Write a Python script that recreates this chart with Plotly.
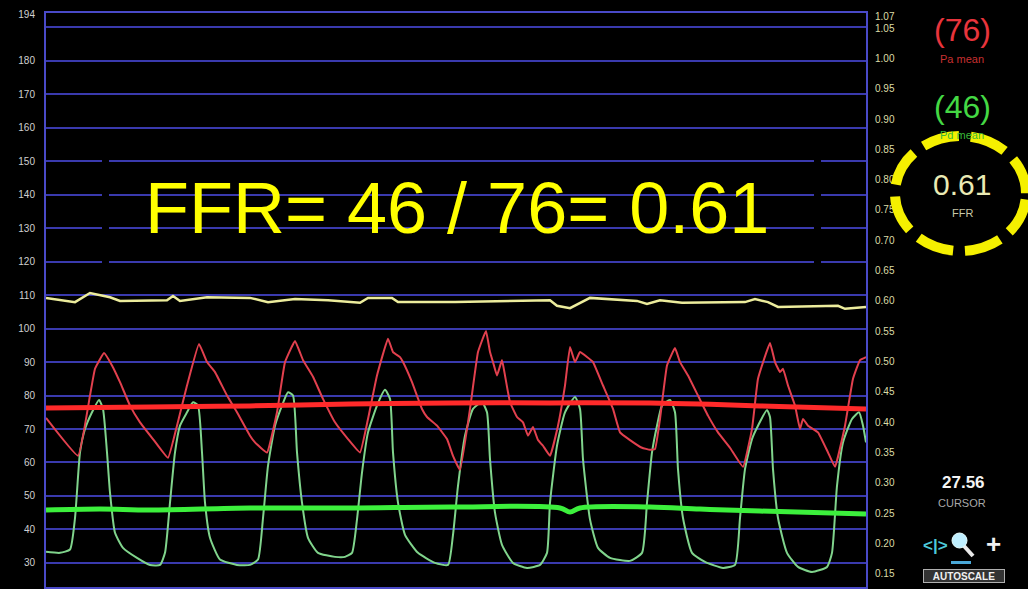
import plotly.graph_objects as go

# ---------------- data ----------------
# time in seconds along the trace
TIME_PA = [0, 0.32, 0.44, 0.49, 0.58, 0.66, 0.74, 0.84, 0.94, 1.07,
           1.22, 1.31, 1.41, 1.53, 1.61, 1.69, 1.81, 1.91, 2.04, 2.09,
           2.21, 2.31, 2.39, 2.49, 2.57, 2.67, 2.77, 2.89, 3.02, 3.14,
           3.22, 3.31, 3.42, 3.47, 3.54, 3.57, 3.66, 3.76, 3.81, 3.91,
           4.01, 4.07, 4.14, 4.24, 4.32, 4.40, 4.44, 4.47, 4.51, 4.56,
           4.59, 4.64, 4.71, 4.77, 4.82, 4.87, 4.92, 4.97, 5.04, 5.12,
           5.19, 5.24, 5.29, 5.34, 5.41, 5.47, 5.57, 5.67, 5.74, 5.84,
           5.96, 6.04, 6.09, 6.14, 6.21, 6.29, 6.34, 6.42, 6.52, 6.62,
           6.72, 6.84, 6.97, 7.06, 7.12, 7.24, 7.29, 7.34, 7.37, 7.42,
           7.49, 7.54, 7.57, 7.62, 7.72, 7.82, 7.89, 7.99, 8.07, 8.14,
           8.20]
PA_PHASIC = [73.3, 62, 80, 88, 92.7, 89, 84, 77, 72, 67,
             61.4, 71, 83, 95.4, 90, 87, 80, 75, 68, 66,
             63, 75, 90, 96.3, 90.6, 85.6, 79, 72, 67, 63,
             73, 86, 97, 93, 91.5, 90, 84, 76, 73.6, 71,
             67, 62, 57.8, 76, 93, 99.3, 93, 90, 86, 90.6,
             86, 78, 73.6, 72, 68, 70.6, 66.7, 65, 62, 71,
             83, 94.5, 90, 93, 91.5, 90, 83, 76, 69, 66.7,
             64.4, 63.8, 64, 73, 89, 94.2, 90, 86, 80, 74,
             69, 64.4, 58.7, 70, 85, 95.7, 90, 87, 88, 83,
             77, 70, 73, 71, 69, 63, 58.7, 71, 85, 90.6,
             91.5]

TIME_PD = [0, 0.14, 0.24, 0.29, 0.34, 0.39, 0.46, 0.53, 0.57, 0.61,
           0.64, 0.69, 0.77, 0.91, 1.04, 1.14, 1.19, 1.24, 1.29, 1.34,
           1.41, 1.47, 1.52, 1.56, 1.59, 1.64, 1.74, 1.91, 2.04, 2.12,
           2.17, 2.22, 2.29, 2.36, 2.42, 2.47, 2.51, 2.56, 2.62, 2.72,
           2.89, 2.99, 3.06, 3.11, 3.16, 3.22, 3.31, 3.39, 3.44, 3.47,
           3.52, 3.59, 3.72, 3.89, 4.02, 4.07, 4.12, 4.19, 4.27, 4.36,
           4.41, 4.44, 4.49, 4.56, 4.67, 4.81, 4.94, 5.01, 5.04, 5.11,
           5.19, 5.29, 5.34, 5.37, 5.44, 5.52, 5.64, 5.84, 5.96, 6.01,
           6.06, 6.11, 6.16, 6.24, 6.29, 6.32, 6.37, 6.46, 6.59, 6.77,
           6.89, 6.94, 6.99, 7.06, 7.12, 7.21, 7.24, 7.27, 7.32, 7.41,
           7.52, 7.66, 7.81, 7.86, 7.91, 7.97, 8.06, 8.13, 8.17, 8.20]
PD_PHASIC = [33.3, 33, 34, 43.4, 63, 70, 75, 78.7, 76, 63,
             51, 39, 34.5, 31.5, 29.4, 29.4, 33, 48, 63, 71,
             75, 78, 77, 63, 48, 37.5, 31, 29.4, 29.4, 31,
             43.4, 59, 71, 77, 81, 80, 63, 48, 37.5, 33,
             31.8, 31.8, 33, 43, 57, 69, 77, 81.7, 79, 63,
             48, 38.4, 33, 30, 29.4, 38.4, 53, 68, 76, 78,
             75, 61, 45, 35.4, 30, 28.5, 29.4, 33, 48, 65,
             75, 79.6, 76, 61, 43, 34.5, 31.5, 30.6, 33, 48,
             63, 71, 77, 78.7, 75, 58, 43.4, 33, 30.3, 28.5,
             29.4, 43.4, 58, 67, 71, 75.7, 73.6, 58, 43.4, 33,
             28.8, 27.3, 28.8, 33, 53, 66, 73, 75, 71, 66]

TIME_PA_MEAN = [0, 1.04, 2.04, 3.04, 4.04, 5.04, 6.04, 6.54, 7.14, 8.20]
PA_MEAN = [76.3, 76.6, 76.9, 77.5, 77.8, 77.8, 77.8, 77.5, 76.9, 76.0]

TIME_PD_MEAN = [0, 0.54, 1.04, 2.04, 3.04, 4.04, 5.14, 5.24, 5.34, 6.04, 6.54, 7.14, 8.20]
PD_MEAN = [45.8, 46.1, 45.8, 46.4, 46.4, 46.7, 46.4, 45.2, 46.4, 46.7, 46.1, 45.5, 44.6]

TIME_RATIO = [0, 0.29, 0.44, 0.64, 0.74, 1.21, 1.27, 1.34, 1.61, 2.04,
              2.22, 2.49, 2.82, 3.14, 3.22, 3.46, 3.52, 4.09, 5.04, 5.11,
              5.24, 5.44, 5.91, 6.01, 6.14, 6.36, 6.99, 7.09, 7.22, 7.32,
              7.92, 7.99, 8.20]
RATIO = [0.605, 0.598, 0.613, 0.606, 0.600, 0.601, 0.608, 0.600, 0.606, 0.605,
         0.598, 0.603, 0.601, 0.597, 0.605, 0.605, 0.598, 0.598, 0.601, 0.592,
         0.588, 0.605, 0.600, 0.595, 0.601, 0.597, 0.598, 0.603, 0.598, 0.590,
         0.592, 0.587, 0.590]

LEFT_RANGE = [22.8, 194.3]
LEFT_TICKS = [23, 30, 40, 50, 60, 70, 80, 90, 100, 110, 120, 130, 140, 150, 160, 170, 180, 194]
LEFT_TICK_TEXT = ["23", "30", "40", "50", "60", "70", "80", "90", "100", "110", "120",
                  "130", "140", "150", "160", "170", "180", "194"]
GRID_LEVELS = [30, 40, 50, 60, 70, 80, 90, 100, 110, 120, 130, 140, 150, 160, 170, 180, 190]

RIGHT_RANGE = [0.128, 1.075]
RIGHT_TICKS = [0.13, 0.15, 0.20, 0.25, 0.30, 0.35, 0.40, 0.45, 0.50, 0.55, 0.60,
               0.65, 0.70, 0.75, 0.80, 0.85, 0.90, 0.95, 1.00, 1.05, 1.07]
RIGHT_TICK_TEXT = ["%.2f" % v for v in RIGHT_TICKS]

TIME_RANGE = [0, 8.2]

PA_VALUE = 76
PD_VALUE = 46
FFR_VALUE = 0.61
CURSOR_VALUE = 27.56

# ---------------- figure ----------------
FONT = "Liberation Sans, Arial, sans-serif"
FRAME = "#4a4ac8"
GRID = "#3a3aae"

fig = go.Figure()
fig.add_trace(go.Scatter(x=TIME_RATIO, y=RATIO, yaxis="y2", mode="lines",
                         line=dict(color="#ecec9c", width=2.5), hoverinfo="skip"))
fig.add_trace(go.Scatter(x=TIME_PD, y=PD_PHASIC, mode="lines",
                         line=dict(color="#80d48c", width=2, shape="spline", smoothing=0.5),
                         hoverinfo="skip"))
fig.add_trace(go.Scatter(x=TIME_PA, y=PA_PHASIC, mode="lines",
                         line=dict(color="#e2404e", width=2, shape="spline", smoothing=0.3),
                         hoverinfo="skip"))
fig.add_trace(go.Scatter(x=TIME_PA_MEAN, y=PA_MEAN, yaxis="y3", mode="lines",
                         line=dict(color="#ff2a2a", width=5, shape="spline"), hoverinfo="skip"))
fig.add_trace(go.Scatter(x=TIME_PD_MEAN, y=PD_MEAN, yaxis="y3", mode="lines",
                         line=dict(color="#3cf03c", width=5, shape="spline"), hoverinfo="skip"))

L, R, T, B = 46, 162, 13, 2
W, H = 1028, 589
PW, PH = W - L - R, H - T - B


def px_x(px):
    return (px - L) / PW


def px_y(py):
    return (H - B - py) / PH


annotations = [
    dict(text="FFR= %d / %d= %.2f" % (PD_VALUE, PA_VALUE, FFR_VALUE),
         x=px_x(457), y=px_y(208), font=dict(size=72, color="#ffff00", family=FONT)),
    dict(text="(%d)" % PA_VALUE, x=px_x(962), y=px_y(30),
         font=dict(size=32, color="#e8343c", family=FONT)),
    dict(text="Pa mean", x=px_x(962), y=px_y(59),
         font=dict(size=11, color="#c83030", family=FONT)),
    dict(text="(%d)" % PD_VALUE, x=px_x(962), y=px_y(107),
         font=dict(size=32, color="#44d844", family=FONT)),
    dict(text="Pd mean", x=px_x(962), y=px_y(135),
         font=dict(size=11, color="#38b838", family=FONT)),
    dict(text="%.2f" % FFR_VALUE, x=px_x(962), y=px_y(184),
         font=dict(size=30, color="#eaeab4", family=FONT)),
    dict(text="FFR", x=px_x(962), y=px_y(213),
         font=dict(size=11, color="#c8c8a8", family=FONT)),
    dict(text="<b>%.2f</b>" % CURSOR_VALUE, x=px_x(963), y=px_y(483),
         font=dict(size=17, color="#f4f4f4", family=FONT)),
    dict(text="CURSOR", x=px_x(962), y=px_y(503),
         font=dict(size=11, color="#a8a8a8", family=FONT)),
    dict(text="<b>&lt;|&gt;</b>", x=px_x(935), y=px_y(545),
         font=dict(size=17, color="#4cc8d8", family=FONT)),
    dict(text="<b>+</b>", x=px_x(994), y=px_y(544),
         font=dict(size=26, color="#f0f0f0", family=FONT)),
    dict(text="<b>AUTOSCALE</b>", x=px_x(964), y=px_y(575.5), width=80, height=12,
         bgcolor="#333333", bordercolor="#b0b0b0", borderwidth=1, borderpad=0,
         font=dict(size=10, color="#f0f0f0", family=FONT)),
]
for a in annotations:
    a.update(xref="paper", yref="paper", showarrow=False, xanchor="center", yanchor="middle")

shapes = [
    # black gaps left in the grid by the pasted text box
    dict(type="rect", xref="paper", yref="paper", x0=px_x(102), x1=px_x(109),
         y0=px_y(266), y1=px_y(154), fillcolor="black", line=dict(width=0), layer="above"),
    dict(type="rect", xref="paper", yref="paper", x0=px_x(814), x1=px_x(821),
         y0=px_y(266), y1=px_y(154), fillcolor="black", line=dict(width=0), layer="above"),
    # yellow dashed highlight circle
    dict(type="circle", xref="paper", yref="paper", x0=px_x(895), x1=px_x(1026),
         y0=px_y(251), y1=px_y(136), line=dict(color="#f5f000", width=10, dash="0px,6px,37px,6px"),
         layer="above"),
    # magnifier icon
    dict(type="line", xref="paper", yref="paper", x0=px_x(964), y0=px_y(546), x1=px_x(973),
         y1=px_y(556), line=dict(color="#e8e8e8", width=4), layer="above"),
    dict(type="circle", xref="paper", yref="paper", x0=px_x(952), x1=px_x(967),
         y0=px_y(548), y1=px_y(533), fillcolor="#bfefff", line=dict(color="#e8ffff", width=1),
         layer="above"),
    dict(type="rect", xref="paper", yref="paper", x0=px_x(951), x1=px_x(971),
         y0=px_y(564), y1=px_y(561), fillcolor="#4aa8d8", line=dict(width=0), layer="above"),
]

fig.update_layout(
    width=W, height=H,
    margin=dict(l=L, r=R, t=T, b=B),
    paper_bgcolor="black", plot_bgcolor="black",
    showlegend=False,
    font=dict(family=FONT),
    xaxis=dict(range=TIME_RANGE, showgrid=False, zeroline=False, showticklabels=False,
               ticks="", showline=True, linecolor=FRAME, linewidth=2, mirror=True),
    yaxis=dict(range=LEFT_RANGE, tickmode="array", tickvals=LEFT_TICKS, ticktext=LEFT_TICK_TEXT,
               showgrid=False, zeroline=False, showline=True, linecolor=FRAME, linewidth=2,
               ticks="", ticklabelstandoff=7, tickfont=dict(size=10, color="#d0d0d0", family=FONT)),
    yaxis2=dict(range=RIGHT_RANGE, overlaying="y", side="right", anchor="x",
                tickmode="array", tickvals=RIGHT_TICKS, ticktext=RIGHT_TICK_TEXT,
                showgrid=False, zeroline=False, showline=True, linecolor=FRAME, linewidth=2,
                ticks="", ticklabelstandoff=5, tickfont=dict(size=10, color="#dcdca6", family=FONT)),
    yaxis3=dict(range=LEFT_RANGE, overlaying="y", side="left", anchor="x",
                tickmode="array", tickvals=GRID_LEVELS, showticklabels=False,
                showgrid=True, gridcolor=GRID, gridwidth=2, zeroline=False, showline=False,
                ticks=""),
    annotations=annotations,
    shapes=shapes,
)

fig.write_html(
    "out.html",
    config={"displayModeBar": False},
    post_script="document.body.style.margin='0';document.body.style.padding='0';"
                "document.body.style.background='black';document.body.style.overflow='hidden';",
)
